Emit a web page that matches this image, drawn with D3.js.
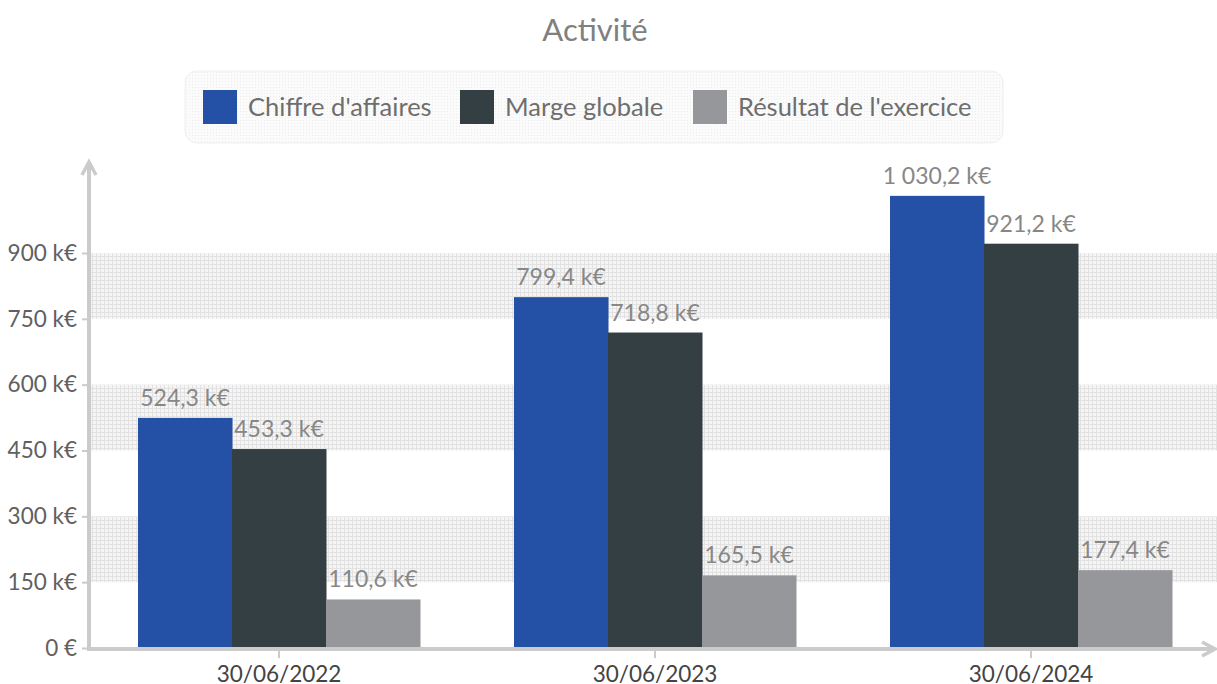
<!DOCTYPE html>
<html>
<head>
<meta charset="utf-8">
<script src="https://cdn.jsdelivr.net/npm/d3@7"></script>
<style>
  body { margin: 0; background: #fff; }
  text { font-family: Lato, "Open Sans", sans-serif; }
</style>
</head>
<body>
<div class="canvas"></div>
<script>
// Data
var dates = ['30/06/2022', '30/06/2023', '30/06/2024'];
var seriesNames = ["Chiffre d'affaires", 'Marge globale', "Résultat de l'exercice"];
var chiffreAffaires = [524.3, 799.4, 1030.2];
var margeGlobale = [453.3, 718.8, 921.2];
var resultat = [110.6, 165.5, 177.4];
var yTicks = [0, 150, 300, 450, 600, 750, 900];
var bands = [[150, 300], [450, 600], [750, 900]];
var colors = ['#2451a5', '#343f44', '#96979a'];

var width = 1217, height = 684;
var svg = d3.select('.canvas').append('svg').attr('width', width).attr('height', height);

var fr = d3.formatLocale({ decimal: ',', thousands: ' ', grouping: [3], currency: ['', ' €'] });
var fmtVal = fr.format(',.1f');

// Patterns
var defs = svg.append('defs');
var grid = defs.append('pattern').attr('id', 'grid').attr('width', 4).attr('height', 4).attr('patternUnits', 'userSpaceOnUse');
grid.append('rect').attr('width', 4).attr('height', 4).attr('fill', '#f5f5f5');
grid.append('path').attr('d', 'M0,0.5H4M0.5,0V4').attr('stroke', '#e2e2e2').attr('stroke-width', 1);
var dots = defs.append('pattern').attr('id', 'dots').attr('width', 3).attr('height', 3).attr('patternUnits', 'userSpaceOnUse');
dots.append('rect').attr('width', 3).attr('height', 3).attr('fill', '#fbfbfb');
dots.append('rect').attr('width', 1).attr('height', 1).attr('fill', '#ececec');

// Scales
var x0 = d3.scaleBand().domain(dates).range([91, 1219]).paddingInner(0.25).paddingOuter(0.125);
var x1 = d3.scaleBand().domain(d3.range(3)).range([0, x0.bandwidth()]);
var y = d3.scaleLinear().domain([0, 900]).range([648, 253]);

// Background bands
svg.append('g').selectAll('rect').data(bands).enter().append('rect')
  .attr('x', 91).attr('width', width - 91)
  .attr('y', function (d) { return y(d[1]); })
  .attr('height', function (d) { return y(d[0]) - y(d[1]); })
  .attr('fill', 'url(#grid)');

// Title
svg.append('text').attr('x', 595).attr('y', 41).attr('text-anchor', 'middle')
  .attr('font-size', 31).attr('fill', '#808080').text('Activité');

// Legend
var legend = svg.append('g');
legend.append('rect').attr('x', 185).attr('y', 71).attr('width', 818).attr('height', 72)
  .attr('rx', 12).attr('fill', 'url(#dots)').attr('stroke', '#efefef');
var legendX = [203, 460, 693];
seriesNames.forEach(function (name, i) {
  legend.append('rect').attr('x', legendX[i]).attr('y', 90).attr('width', 34).attr('height', 34).attr('fill', colors[i]);
  legend.append('text').attr('x', legendX[i] + 45).attr('y', 116)
    .attr('font-size', 25.5).attr('fill', '#6e6e6e').text(name);
});

// Bars
var rows = dates.map(function (d, i) {
  return { date: d, values: [chiffreAffaires[i], margeGlobale[i], resultat[i]] };
});
var groups = svg.append('g').selectAll('g').data(rows).enter().append('g')
  .attr('transform', function (d) { return 'translate(' + x0(d.date) + ',0)'; });
var cells = groups.selectAll('g').data(function (d) {
  return d.values.map(function (v, i) { return { v: v, i: i }; });
}).enter().append('g');
cells.append('rect')
  .attr('x', function (d) { return x1(d.i); })
  .attr('width', x1.bandwidth() + 0.5)
  .attr('y', function (d) { return y(d.v); })
  .attr('height', function (d) { return y(0) - y(d.v); })
  .attr('fill', function (d) { return colors[d.i]; });
cells.append('text')
  .attr('x', function (d) { return x1(d.i) + x1.bandwidth() / 2; })
  .attr('y', function (d) { return y(d.v) - 12; })
  .attr('text-anchor', 'middle').attr('font-size', 23).attr('fill', '#878787')
  .text(function (d) { return fmtVal(d.v) + ' k€'; });

// Axes
var axisColor = '#cbcbcb';
var yAxisG = svg.append('g').attr('transform', 'translate(89,0)')
  .call(d3.axisLeft(y).tickValues(yTicks).tickSize(7).tickPadding(5)
    .tickFormat(function (d) { return d === 0 ? '0 €' : fmtVal(d).replace(',0', '') + ' k€'; }));
yAxisG.select('.domain').remove();
yAxisG.selectAll('line').attr('stroke', axisColor).attr('stroke-width', 2);
yAxisG.selectAll('text').attr('font-size', 22.5).attr('fill', '#606060').attr('font-family', 'Lato, sans-serif');

var xAxisG = svg.append('g').attr('transform', 'translate(0,648)')
  .call(d3.axisBottom(x0).tickSize(10).tickPadding(10).tickSizeOuter(0));
xAxisG.select('.domain').remove();
xAxisG.selectAll('line').attr('stroke', axisColor).attr('stroke-width', 2);
xAxisG.selectAll('text').attr('font-size', 22.5).attr('fill', '#444').attr('font-family', 'Lato, sans-serif')
  .attr('y', 26).attr('dy', '0.35em');

// Axis lines with arrows
svg.append('line').attr('x1', 89).attr('x2', 89).attr('y1', 650).attr('y2', 163)
  .attr('stroke', axisColor).attr('stroke-width', 4);
svg.append('path').attr('d', 'M82,175L89,162L96,175').attr('fill', 'none').attr('stroke', axisColor).attr('stroke-width', 3.5);
svg.append('line').attr('x1', 87).attr('x2', 1213).attr('y1', 649).attr('y2', 649)
  .attr('stroke', axisColor).attr('stroke-width', 4);
svg.append('path').attr('d', 'M1202,642L1215,649L1202,656').attr('fill', 'none').attr('stroke', axisColor).attr('stroke-width', 3.5);
</script>
</body>
</html>
